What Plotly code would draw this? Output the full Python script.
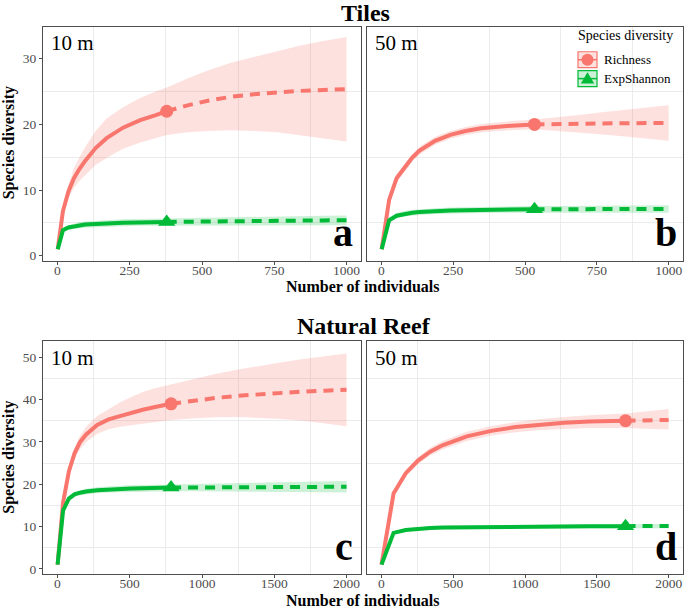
import plotly.graph_objects as go

RED = "#F8766D"
GREEN = "#00BA38"
RED_FILL = "rgba(248,118,109,0.22)"
GREEN_FILL = "rgba(0,186,56,0.20)"
FONT = "Liberation Serif"

# ---------------- Panel a : Tiles, 10 m ----------------
a_int_x = [1, 19, 38, 57, 76, 95, 132, 170, 227, 284, 340, 378]
a_rich = [1, 6.8, 9.8, 11.8, 13.2, 14.4, 16.4, 17.9, 19.5, 20.6, 21.4, 22.0]
a_rich_lo = [1, 6.2, 8.8, 10.3, 11.4, 12.3, 13.8, 14.9, 16.3, 17.2, 17.9, 18.4]
a_rich_hi = [1, 7.4, 10.8, 13.3, 15.0, 16.5, 19.0, 20.9, 22.6, 24.0, 25.0, 25.6]
a_shan = [1, 3.9, 4.3, 4.5, 4.65, 4.75, 4.85, 4.95, 5.03, 5.08, 5.12, 5.15]
a_shan_lo = [1, 3.6, 3.95, 4.1, 4.2, 4.28, 4.36, 4.44, 4.51, 4.55, 4.58, 4.6]
a_shan_hi = [1, 4.2, 4.65, 4.9, 5.1, 5.22, 5.34, 5.46, 5.55, 5.61, 5.66, 5.7]
a_ext_x = [378, 450, 520, 600, 680, 760, 840, 920, 1000]
a_rich_ext = [22.0, 22.9, 23.6, 24.2, 24.6, 24.9, 25.1, 25.25, 25.35]
a_rich_ext_lo = [18.4, 18.8, 19.0, 19.1, 19.0, 18.8, 18.4, 17.9, 17.4]
a_rich_ext_hi = [25.6, 27.0, 28.2, 29.4, 30.3, 31.2, 32.0, 32.7, 33.3]
a_shan_ext = [5.15, 5.2, 5.24, 5.28, 5.31, 5.34, 5.36, 5.38, 5.4]
a_shan_ext_lo = [4.6, 4.62, 4.63, 4.64, 4.65, 4.65, 4.65, 4.65, 4.65]
a_shan_ext_hi = [5.7, 5.78, 5.85, 5.92, 5.97, 6.02, 6.06, 6.1, 6.14]

# ---------------- Panel b : Tiles, 50 m ----------------
b_int_x = [1, 27, 53, 80, 107, 133, 187, 240, 293, 347, 400, 453, 533]
b_rich = [1, 8.5, 11.8, 13.4, 14.9, 16.0, 17.5, 18.4, 19.0, 19.4, 19.65, 19.8, 20.0]
b_rich_lo = [1, 8.0, 11.2, 12.8, 14.3, 15.4, 16.9, 17.8, 18.4, 18.75, 19.0, 19.1, 19.25]
b_rich_hi = [1, 9.0, 12.4, 14.0, 15.5, 16.6, 18.1, 19.0, 19.6, 20.05, 20.3, 20.5, 20.75]
b_shan = [1, 5.4, 6.1, 6.4, 6.55, 6.65, 6.8, 6.88, 6.94, 6.98, 7.02, 7.05, 7.08]
b_shan_lo = [1, 5.05, 5.7, 5.98, 6.12, 6.21, 6.35, 6.42, 6.48, 6.52, 6.55, 6.57, 6.6]
b_shan_hi = [1, 5.75, 6.5, 6.82, 6.98, 7.09, 7.25, 7.34, 7.4, 7.44, 7.49, 7.53, 7.56]
b_ext_x = [533, 600, 680, 760, 840, 920, 1000]
b_rich_ext = [20.0, 20.07, 20.12, 20.15, 20.18, 20.2, 20.2]
b_rich_ext_lo = [19.25, 19.1, 18.8, 18.5, 18.2, 17.9, 17.5]
b_rich_ext_hi = [20.75, 21.0, 21.4, 21.8, 22.2, 22.6, 22.9]
b_shan_ext = [7.08, 7.09, 7.1, 7.11, 7.11, 7.12, 7.12]
b_shan_ext_lo = [6.6, 6.6, 6.59, 6.58, 6.57, 6.56, 6.55]
b_shan_ext_hi = [7.56, 7.58, 7.61, 7.64, 7.65, 7.68, 7.7]

# ---------------- Panel c : Natural Reef, 10 m ----------------
c_int_x = [1, 39, 79, 118, 157, 197, 275, 354, 432, 511, 590, 668, 786]
c_rich = [1, 15.7, 23.0, 27.3, 30.0, 31.7, 34.0, 35.3, 36.1, 36.9, 37.6, 38.2, 39.0]
c_rich_lo = [1, 15.1, 22.0, 25.9, 28.3, 29.9, 31.9, 33.0, 33.6, 34.0, 34.3, 34.7, 35.2]
c_rich_hi = [1, 16.3, 24.0, 28.7, 31.5, 33.5, 36.1, 37.8, 39.3, 40.6, 41.8, 42.6, 43.6]
c_shan = [1, 13.8, 16.6, 17.6, 18.0, 18.3, 18.6, 18.8, 18.9, 19.0, 19.05, 19.1, 19.2]
c_shan_lo = [1, 13.4, 16.1, 17.0, 17.4, 17.65, 17.9, 18.05, 18.15, 18.22, 18.27, 18.3, 18.35]
c_shan_hi = [1, 14.2, 17.1, 18.2, 18.6, 18.95, 19.3, 19.55, 19.65, 19.78, 19.83, 19.9, 20.05]
c_ext_x = [786, 950, 1100, 1250, 1400, 1550, 1700, 1850, 2000]
c_rich_ext = [39.0, 39.8, 40.4, 40.9, 41.3, 41.6, 41.9, 42.1, 42.3]
c_rich_ext_lo = [35.2, 35.6, 35.8, 35.9, 35.7, 35.4, 35.0, 34.4, 33.7]
c_rich_ext_hi = [43.6, 45.0, 46.1, 47.1, 48.0, 48.8, 49.6, 50.3, 50.9]
c_shan_ext = [19.2, 19.24, 19.27, 19.3, 19.32, 19.34, 19.36, 19.38, 19.4]
c_shan_ext_lo = [18.35, 18.33, 18.3, 18.27, 18.24, 18.2, 18.16, 18.11, 18.05]
c_shan_ext_hi = [20.05, 20.15, 20.24, 20.33, 20.4, 20.48, 20.56, 20.66, 20.75]

# ---------------- Panel d : Natural Reef, 50 m ----------------
d_int_x = [1, 85, 170, 255, 340, 425, 595, 765, 935, 1105, 1275, 1445, 1700]
d_rich = [1, 17.8, 22.6, 25.6, 27.7, 29.2, 31.3, 32.6, 33.5, 34.1, 34.5, 34.8, 35.0]
d_rich_lo = [1, 17.3, 21.9, 24.8, 26.8, 28.2, 30.2, 31.5, 32.3, 32.8, 33.1, 33.3, 33.3]
d_rich_hi = [1, 18.3, 23.3, 26.4, 28.6, 30.2, 32.4, 33.7, 34.7, 35.4, 35.9, 36.3, 36.7]
d_shan = [1, 8.5, 9.2, 9.5, 9.65, 9.75, 9.85, 9.92, 9.97, 10.0, 10.03, 10.06, 10.1]
d_shan_lo = [1, 8.2, 8.85, 9.12, 9.26, 9.35, 9.44, 9.5, 9.55, 9.57, 9.6, 9.62, 9.65]
d_shan_hi = [1, 8.8, 9.55, 9.88, 10.04, 10.15, 10.26, 10.34, 10.39, 10.43, 10.46, 10.5, 10.55]
d_ext_x = [1700, 1800, 1900, 2000]
d_rich_ext = [35.0, 35.1, 35.15, 35.2]
d_rich_ext_lo = [33.3, 33.2, 33.05, 32.9]
d_rich_ext_hi = [36.7, 37.1, 37.45, 37.8]
d_shan_ext = [10.1, 10.11, 10.11, 10.12]
d_shan_ext_lo = [9.65, 9.64, 9.63, 9.62]
d_shan_ext_hi = [10.55, 10.58, 10.6, 10.62]

# ticks (major labelled ticks, and the light minor grid lines)
tiles_xticks = [0, 250, 500, 750, 1000]
tiles_xminor = [125, 375, 625, 875]
reef_xticks = [0, 500, 1000, 1500, 2000]
reef_xminor = [250, 750, 1250, 1750]
tiles_yticks = [0, 10, 20, 30]
tiles_yminor = [5, 15, 25]
reef_yticks = [0, 10, 20, 30, 40, 50]
reef_yminor = [5, 15, 25, 35, 45]

legend_title = "Species diversity"
legend_names = ["Richness", "ExpShannon"]

fig = go.Figure()


def add_ribbon(xa, ya, ix, lo, hi, ex, elo, ehi, fillcol):
    rx = ix + ex[1:]
    rhi = hi + ehi[1:]
    rlo = lo + elo[1:]
    fig.add_trace(go.Scatter(
        x=rx + rx[::-1], y=rhi + rlo[::-1], xaxis=xa, yaxis=ya,
        fill="toself", fillcolor=fillcol, line=dict(width=0),
        mode="lines", hoverinfo="skip", showlegend=False))


def add_lines(xa, ya, ix, y, ex, ey, color, symbol, msize, name):
    fig.add_trace(go.Scatter(x=ix, y=y, xaxis=xa, yaxis=ya, mode="lines", name=name,
                             line=dict(color=color, width=4), showlegend=False))
    fig.add_trace(go.Scatter(x=ex, y=ey, xaxis=xa, yaxis=ya, mode="lines", name=name,
                             line=dict(color=color, width=4, dash="10px,7px"),
                             showlegend=False))
    fig.add_trace(go.Scatter(x=[ix[-1]], y=[y[-1]], xaxis=xa, yaxis=ya, mode="markers",
                             name=name,
                             marker=dict(color=color, symbol=symbol, size=msize,
                                         line=dict(width=0)),
                             showlegend=False))


panels = [
    ("x", "y", a_int_x, a_rich, a_rich_lo, a_rich_hi, a_ext_x, a_rich_ext, a_rich_ext_lo, a_rich_ext_hi,
     a_shan, a_shan_lo, a_shan_hi, a_shan_ext, a_shan_ext_lo, a_shan_ext_hi),
    ("x2", "y2", b_int_x, b_rich, b_rich_lo, b_rich_hi, b_ext_x, b_rich_ext, b_rich_ext_lo, b_rich_ext_hi,
     b_shan, b_shan_lo, b_shan_hi, b_shan_ext, b_shan_ext_lo, b_shan_ext_hi),
    ("x3", "y3", c_int_x, c_rich, c_rich_lo, c_rich_hi, c_ext_x, c_rich_ext, c_rich_ext_lo, c_rich_ext_hi,
     c_shan, c_shan_lo, c_shan_hi, c_shan_ext, c_shan_ext_lo, c_shan_ext_hi),
    ("x4", "y4", d_int_x, d_rich, d_rich_lo, d_rich_hi, d_ext_x, d_rich_ext, d_rich_ext_lo, d_rich_ext_hi,
     d_shan, d_shan_lo, d_shan_hi, d_shan_ext, d_shan_ext_lo, d_shan_ext_hi),
]

for p in panels:
    xa, ya, ix, r, rlo, rhi, ex, re, relo, rehi, s, slo, shi, se, selo, sehi = p
    add_ribbon(xa, ya, ix, rlo, rhi, ex, relo, rehi, RED_FILL)
    add_ribbon(xa, ya, ix, slo, shi, ex, selo, sehi, GREEN_FILL)
    add_lines(xa, ya, ix, r, ex, re, RED, "circle", 13, legend_names[0])
    add_lines(xa, ya, ix, s, ex, se, GREEN, "triangle-up", 15, legend_names[1])

H = 611.0
W = 685.0


def px(x):
    return x / W


def py(y):
    return 1 - y / H


def dom_x(a, b):
    return [px(a), px(b)]


def dom_y(top, bottom):
    return [py(bottom), py(top)]


def axis(domain, rng, ticks, minor_vals, anchor, labels=True, is_x=True):
    d = dict(
        domain=domain, range=rng, anchor=anchor,
        tickmode="array", tickvals=ticks, ticktext=[str(v) for v in ticks],
        showticklabels=labels,
        showline=True, linecolor="#4D4D4D", linewidth=1, mirror=True,
        showgrid=False, zeroline=False,
        ticks="outside" if labels else "", ticklen=3, tickcolor="#4D4D4D", tickwidth=1,
        tickfont=dict(family=FONT, size=13.5, color="#4D4D4D"),
        minor=dict(tickmode="array", tickvals=minor_vals, showgrid=True,
                   gridcolor="#EBEBEB", gridwidth=1, ticks=""),
    )
    if is_x:
        d["ticklabelstandoff"] = -6
    return d


fig.update_layout(
    width=685, height=611,
    margin=dict(l=0, r=0, t=0, b=0),
    paper_bgcolor="white", plot_bgcolor="white",
    font=dict(family=FONT, color="black"),
    showlegend=False,
    xaxis=axis(dom_x(43, 361), [-50, 1050], tiles_xticks, tiles_xminor, "y"),
    yaxis=axis(dom_y(27, 262), [-0.757, 34.85], tiles_yticks, tiles_yminor, "x", is_x=False),
    xaxis2=axis(dom_x(367, 683), [-50, 1050], tiles_xticks, tiles_xminor, "y2"),
    yaxis2=axis(dom_y(27, 262), [-0.757, 34.85], tiles_yticks, tiles_yminor, "x2", labels=False, is_x=False),
    xaxis3=axis(dom_x(43, 361), [-100, 2100], reef_xticks, reef_xminor, "y3"),
    yaxis3=axis(dom_y(343, 577), [-1.246, 53.76], reef_yticks, reef_yminor, "x3", is_x=False),
    xaxis4=axis(dom_x(367, 683), [-100, 2100], reef_xticks, reef_xminor, "y4"),
    yaxis4=axis(dom_y(343, 577), [-1.246, 53.76], reef_yticks, reef_yminor, "x4", labels=False, is_x=False),
)


def ann(text, x, y, size, bold=False, xanchor="center", yanchor="middle", angle=0, color="black"):
    fig.add_annotation(
        text=f"<b>{text}</b>" if bold else text,
        x=px(x), y=py(y), xref="paper", yref="paper",
        showarrow=False, xanchor=xanchor, yanchor=yanchor, textangle=angle,
        font=dict(family=FONT, size=size, color=color))


ann("Tiles", 365, 13, 24, bold=True)
ann("Natural Reef", 364, 328, 24, bold=True)
ann("Number of individuals", 363, 288, 16, bold=True)
ann("Number of individuals", 363, 603, 16, bold=True)
ann("Species diversity", 9, 144, 16, bold=True, angle=-90)
ann("Species diversity", 9, 460, 16, bold=True, angle=-90)

ann("10 m", 49, 43, 21, xanchor="left")
ann("50 m", 373, 43, 21, xanchor="left")
ann("10 m", 49, 360, 21, xanchor="left")
ann("50 m", 373, 360, 21, xanchor="left")

ann("a", 355, 258, 40, bold=True, xanchor="right", yanchor="bottom")
ann("b", 679, 258, 40, bold=True, xanchor="right", yanchor="bottom")
ann("c", 355, 574, 40, bold=True, xanchor="right", yanchor="bottom")
ann("d", 679, 574, 40, bold=True, xanchor="right", yanchor="bottom")

# ---- legend (drawn as keys in the top-right panel) ----
ann(legend_title, 576, 36, 14, xanchor="left")
ann(legend_names[0], 602, 60, 13, xanchor="left")
ann(legend_names[1], 602, 79, 13, xanchor="left")

key_boxes = [(52, 68, RED, RED_FILL), (71, 87, GREEN, GREEN_FILL)]
for (t, b, col, fcol) in key_boxes:
    fig.add_shape(type="rect", xref="paper", yref="paper",
                  x0=px(578), x1=px(597), y0=py(b), y1=py(t),
                  fillcolor=fcol, line=dict(color=col, width=1.2))
    cy = (t + b) / 2
    fig.add_shape(type="line", xref="paper", yref="paper",
                  x0=px(578), x1=px(597), y0=py(cy), y1=py(cy),
                  line=dict(color=col, width=1.5))
# circle key
fig.add_shape(type="circle", xref="paper", yref="paper",
              x0=px(581.5), x1=px(593.5), y0=py(66), y1=py(54),
              fillcolor=RED, line=dict(width=0))
# triangle key
tri = f"M {px(580.8)},{py(84)} L {px(594.2)},{py(84)} L {px(587.5)},{py(72.5)} Z"
fig.add_shape(type="path", xref="paper", yref="paper", path=tri,
              fillcolor=GREEN, line=dict(width=0))

fig.write_html("out.html",
               config={"displayModeBar": False},
               post_script="document.body.style.margin='0px';document.body.style.overflow='hidden';")
